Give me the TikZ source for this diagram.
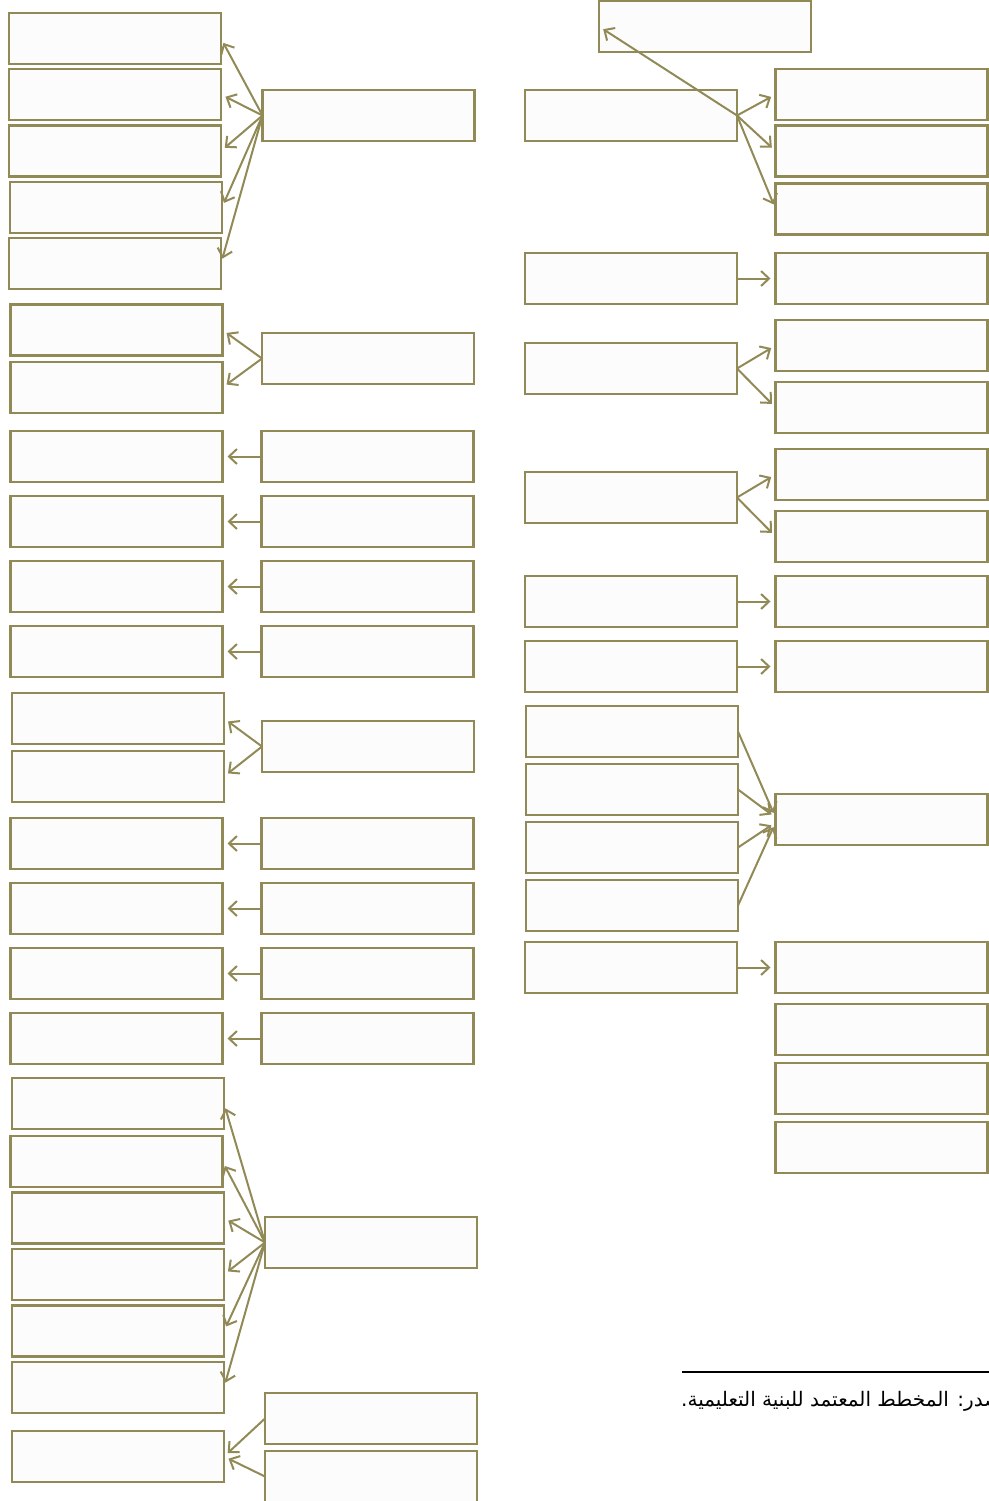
\documentclass[tikz,border=0pt]{standalone}
\usepackage{fontspec}
\newfontfamily\arabicfont[Script=Arabic]{DejaVu Sans}
\TeXXeTstate=1
\usetikzlibrary{arrows.meta,calc}
\definecolor{olivec}{RGB}{146,138,86}
\definecolor{boxfill}{RGB}{252,252,252}
\begin{document}
\begin{tikzpicture}[x=1pt,y=-1pt,
  box/.style={draw=olivec, line width=2.4pt, fill=boxfill, minimum width=212pt, minimum height=51pt, inner sep=0pt, outer sep=0pt},
  arr/.style={draw=olivec, line width=2pt, -{Straight Barb[length=8pt,width=15pt]}, shorten >=5pt}]
\useasboundingbox (0,0) rectangle (988,1501);
\fill[white] (0,0) rectangle (988,1501);
% left column
\node[box] (L1) at (115,38.5) {};
\node[box] (L2) at (115,94.5) {};
\node[box] (L3) at (115,151) {};
\node[box] (L4) at (116,207.5) {};
\node[box] (L5) at (115,263.5) {};
\node[box] (L6) at (116.5,330) {};
\node[box] (L7) at (116.5,387.5) {};
\node[box] (L8) at (116.5,456.5) {};
\node[box] (L9) at (116.5,521.5) {};
\node[box] (L10) at (116.5,586.5) {};
\node[box] (L11) at (116.5,651.5) {};
\node[box] (L12) at (118,718.5) {};
\node[box] (L13) at (118,776.5) {};
\node[box] (L14) at (116.5,843.5) {};
\node[box] (L15) at (116.5,908.5) {};
\node[box] (L16) at (116.5,973.5) {};
\node[box] (L17) at (116.5,1038.5) {};
\node[box] (L18) at (118,1103.5) {};
\node[box] (L19) at (116.5,1161.5) {};
\node[box] (L20) at (118,1218) {};
\node[box] (L21) at (118,1274.5) {};
\node[box] (L22) at (118,1331) {};
\node[box] (L23) at (118,1387.5) {};
\node[box] (L24) at (118,1456.5) {};
% middle column
\node[box] (M1) at (368.5,115.5) {};
\node[box] (M2) at (368,358.5) {};
\node[box] (M3) at (367.5,456.5) {};
\node[box] (M4) at (367.5,521.5) {};
\node[box] (M5) at (367.5,586.5) {};
\node[box] (M6) at (367.5,651.5) {};
\node[box] (M7) at (368,746.5) {};
\node[box] (M8) at (367.5,843.5) {};
\node[box] (M9) at (367.5,908.5) {};
\node[box] (M10) at (367.5,973.5) {};
\node[box] (M11) at (367.5,1038.5) {};
\node[box] (M12) at (371,1242.5) {};
\node[box] (M13) at (371,1418.5) {};
\node[box] (M14) at (371,1476.5) {};
% top box
\node[box] (T) at (705,26.5) {};
% right-middle column
\node[box] (R1) at (631,115.5) {};
\node[box] (R2) at (631,278.5) {};
\node[box] (R3) at (631,368.5) {};
\node[box] (R4) at (631,497.5) {};
\node[box] (R5) at (631,601.5) {};
\node[box] (R6) at (631,666.5) {};
\node[box] (R7) at (632,731.5) {};
\node[box] (R8) at (632,789.5) {};
\node[box] (R9) at (632,847.5) {};
\node[box] (R10) at (632,905.5) {};
\node[box] (R11) at (631,967.5) {};
% right column
\node[box] (RR1) at (881.5,94.5) {};
\node[box] (RR2) at (881.5,151) {};
\node[box] (RR3) at (881.5,209) {};
\node[box] (RR4) at (881.5,278.5) {};
\node[box] (RR5) at (881.5,345.5) {};
\node[box] (RR6) at (881.5,407.5) {};
\node[box] (RR7) at (881.5,474.5) {};
\node[box] (RR8) at (881.5,536.5) {};
\node[box] (RR9) at (881.5,601.5) {};
\node[box] (RR10) at (881.5,666.5) {};
\node[box] (RR11) at (881.5,819.5) {};
\node[box] (RR12) at (881.5,967.5) {};
\node[box] (RR13) at (881.5,1029.5) {};
\node[box] (RR14) at (881.5,1088.5) {};
\node[box] (RR15) at (881.5,1147.5) {};
% connectors, left side
\foreach \t in {L1,L2,L3,L4,L5} \draw[arr] (M1.west) -- (\t.east);
\foreach \t in {L6,L7} \draw[arr] (M2.west) -- (\t.east);
\draw[arr] (M3.west) -- (L8.east);
\draw[arr] (M4.west) -- (L9.east);
\draw[arr] (M5.west) -- (L10.east);
\draw[arr] (M6.west) -- (L11.east);
\foreach \t in {L12,L13} \draw[arr] (M7.west) -- (\t.east);
\draw[arr] (M8.west) -- (L14.east);
\draw[arr] (M9.west) -- (L15.east);
\draw[arr] (M10.west) -- (L16.east);
\draw[arr] (M11.west) -- (L17.east);
\foreach \t in {L18,L19,L20,L21,L22,L23} \draw[arr] (M12.west) -- (\t.east);
\draw[arr] (M13.west) -- (L24.east);
\draw[arr] (M14.west) -- (L24.east);
% connectors, right side
\draw[arr] (R1.east) -- (T.west);
\foreach \t in {RR1,RR2,RR3} \draw[arr] (R1.east) -- (\t.west);
\draw[arr] (R2.east) -- (RR4.west);
\foreach \t in {RR5,RR6} \draw[arr] (R3.east) -- (\t.west);
\foreach \t in {RR7,RR8} \draw[arr] (R4.east) -- (\t.west);
\draw[arr] (R5.east) -- (RR9.west);
\draw[arr] (R6.east) -- (RR10.west);
\coordinate (in1) at ($(RR11.west)+(0,-2)$);
\coordinate (in2) at ($(RR11.west)+(0,3)$);
\draw[arr] (R7.east) -- (in1);
\draw[arr] (R8.east) -- (in1);
\draw[arr] (R9.east) -- (in2);
\draw[arr] (R10.east) -- (in2);
\draw[arr] (R11.east) -- (RR12.west);
% source note
\coordinate (la) at (682,1372);
\coordinate (lb) at (992,1372);
\draw[line width=2pt] (la) -- (lb);
\node[anchor=west, inner sep=0pt] (src) at (681,1401) {\arabicfont\fontsize{20}{24}\selectfont\beginR المصدر: المخطط المعتمد للبنية التعليمية.\endR};
\end{tikzpicture}
\end{document}
